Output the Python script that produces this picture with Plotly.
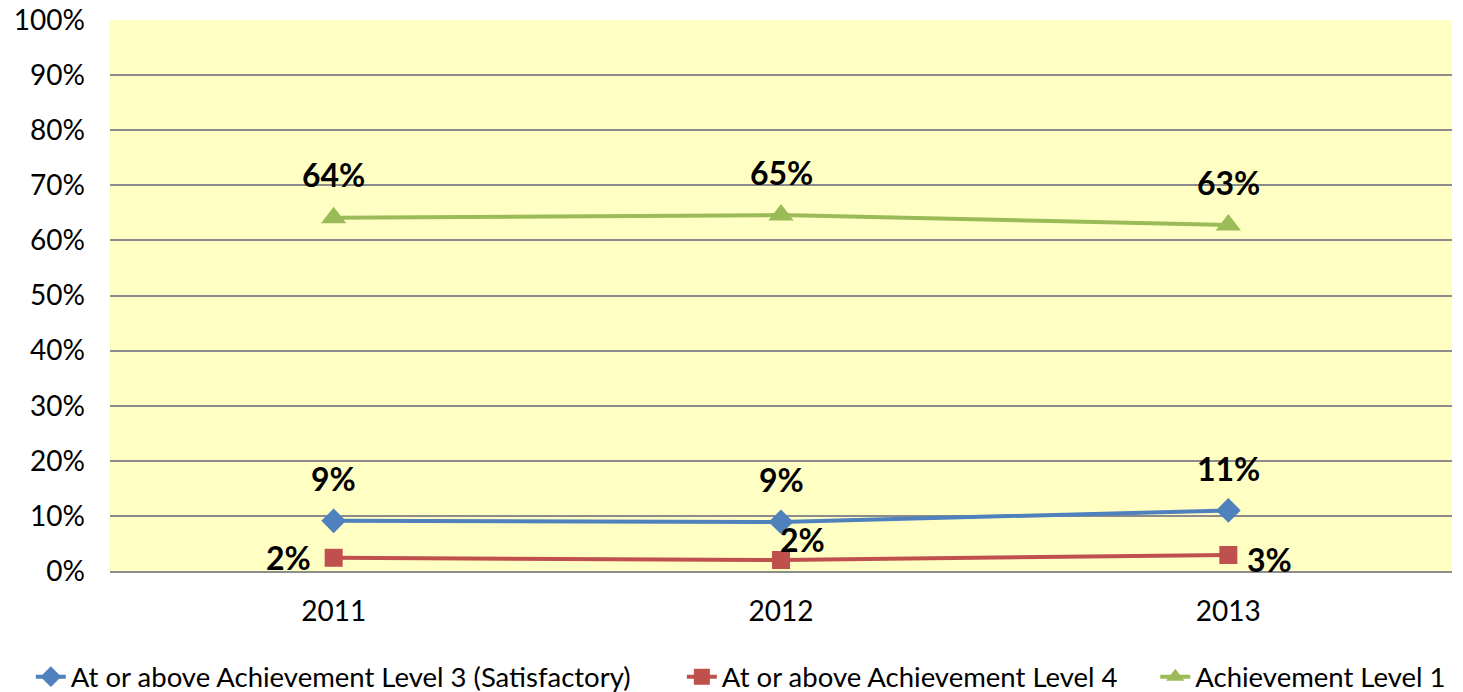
import plotly.graph_objects as go

years = ["2011", "2012", "2013"]
level3 = [9.1, 8.9, 11.0]
level4 = [2.4, 2.0, 2.9]
level1 = [64.1, 64.6, 62.8]
y_ticks = [0, 10, 20, 30, 40, 50, 60, 70, 80, 90, 100]
y_tick_labels = [f"{t}%" for t in y_ticks]

names = ["At or above Achievement Level 3 (Satisfactory)",
         "At or above Achievement Level 4",
         "Achievement Level 1"]
colors = ["#4F81BD", "#C0504D", "#9BBB59"]
symbols = ["diamond", "square", "triangle-up"]
msizes = [19, 18, 22]
series = [level3, level4, level1]
legend_ids = ["legend", "legend2", "legend3"]
legend_x = [0.0156, 0.4606, 0.7842]

FONT = "Lato"

fig = go.Figure()
for name, vals, c, s, ms, lg in zip(names, series, colors, symbols, msizes, legend_ids):
    fig.add_trace(go.Scatter(
        x=years, y=vals, mode="lines+markers", name=name,
        line=dict(color=c, width=4),
        marker=dict(symbol=s, size=ms, color=c),
        legend=lg,
    ))

# label offsets (pixels) per series / point
offsets = [
    [(0, 42), (0, 42), (0, 42)],
    [(-45, 0), (21, 20), (41, -4)],
    [(0, 43), (0, 43), (0, 42)],
]
annotations = []
for vals, offs in zip(series, offsets):
    for i, (v, (dx, dy)) in enumerate(zip(vals, offs)):
        annotations.append(dict(
            x=i, y=v, xref="x", yref="y",
            text=f"<b>{round(v)}%</b>", showarrow=False,
            xshift=dx, yshift=dy,
            font=dict(family=FONT, size=32, color="black"),
        ))

legend_common = dict(orientation="h", xref="container", yref="paper",
                     y=-0.192, yanchor="middle", xanchor="left",
                     font=dict(family=FONT, size=27.5), bgcolor="rgba(0,0,0,0)")

fig.update_layout(
    width=1463, height=692,
    margin=dict(l=102, r=19, t=12, b=129, autoexpand=False),
    plot_bgcolor="#FFFFC4",
    paper_bgcolor="white",
    font=dict(family=FONT, size=28, color="black"),
    annotations=annotations,
    showlegend=True,
    legend=dict(x=legend_x[0], **legend_common),
    legend2=dict(x=legend_x[1], **legend_common),
    legend3=dict(x=legend_x[2], **legend_common),
    xaxis=dict(type="category", range=[-0.5, 2.5], showgrid=False,
               showline=True, linecolor="#8C8C8C", linewidth=2,
               ticks="", tickfont=dict(size=28), automargin=False,
               ticklabelstandoff=14, ticklabeloverflow="allow"),
    yaxis=dict(range=[0, 100], tickvals=y_ticks, ticktext=y_tick_labels,
               showgrid=True, gridcolor="#8C8C8C", gridwidth=2,
               zeroline=False, showline=False, ticks="",
               tickfont=dict(size=28), automargin=False,
               ticklabelstandoff=24, ticklabeloverflow="allow"),
)

fig.write_html("out.html")
